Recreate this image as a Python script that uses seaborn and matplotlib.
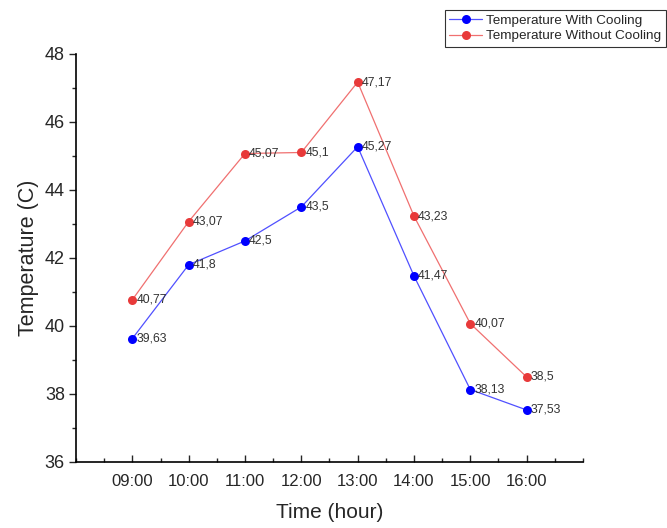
import numpy as np
import pandas as pd
import matplotlib
matplotlib.use('Agg')
import matplotlib.pyplot as plt
from matplotlib.ticker import MultipleLocator
import seaborn as sns

# Данные
hours = ['09:00', '10:00', '11:00', '12:00', '13:00', '14:00', '15:00', '16:00']
with_cooling = [39.63, 41.8, 42.5, 43.5, 45.27, 41.47, 38.13, 37.53]
without_cooling = [40.77, 43.07, 45.07, 45.1, 47.17, 43.23, 40.07, 38.5]

sns.set_style('white')
plt.rcParams['font.family'] = ['Liberation Sans', 'DejaVu Sans']

pos = np.arange(len(hours))
df = pd.DataFrame({'pos': pos, 'with': with_cooling, 'without': without_cooling})

fig = plt.figure(figsize=(6.67, 5.28), dpi=100)
ax = fig.add_axes([0.114, 0.125, 0.760, 0.773])

blue = '#0000ff'
red = '#e83a3a'

sns.lineplot(data=df, x='pos', y='with', ax=ax, color=blue, lw=0.9,
             marker='o', markersize=6.5, markeredgewidth=0, label='Temperature With Cooling')
sns.lineplot(data=df, x='pos', y='without', ax=ax, color=red, lw=0.9,
             marker='o', markersize=6.5, markeredgewidth=0, label='Temperature Without Cooling')
ax.lines[0].set_color('#5050ff')
ax.lines[0].set_markerfacecolor(blue)
ax.lines[1].set_color('#f07070')
ax.lines[1].set_markerfacecolor(red)

# Подписи значений
for vals in (with_cooling, without_cooling):
    for x, v in zip(pos, vals):
        ax.annotate(f'{v:g}'.replace('.', ','), (x, v), xytext=(3, 0),
                    textcoords='offset points', va='center', ha='left',
                    fontsize=8.8, color='#333333')

ax.set_xlim(-1, 8)
ax.set_ylim(36, 48)
ax.set_xticks(pos)
ax.set_xticklabels(hours)
ax.xaxis.set_minor_locator(MultipleLocator(0.5))
ax.yaxis.set_major_locator(MultipleLocator(2))
ax.yaxis.set_minor_locator(MultipleLocator(1))
ax.tick_params(axis='x', which='major', direction='in', length=5, width=1, labelsize=12, pad=9, bottom=True)
ax.tick_params(axis='x', which='minor', direction='in', length=3, width=1, bottom=True)
ax.tick_params(axis='y', which='major', direction='out', length=5, width=1, labelsize=13, pad=3, left=True)
ax.tick_params(axis='y', which='minor', direction='out', length=3, width=1, left=True)

for s in ['top', 'right']:
    ax.spines[s].set_visible(False)
for s in ['left', 'bottom']:
    ax.spines[s].set_color('black')
    ax.spines[s].set_linewidth(1.2)

ax.set_xlabel('Time (hour)', fontsize=15, labelpad=10)
ax.set_ylabel('Temperature (C)', fontsize=15.5, labelpad=4)
ax.grid(False)

handles, labels = ax.get_legend_handles_labels()
ax.get_legend().remove()
leg = fig.legend(handles, labels, loc='upper right', bbox_to_anchor=(0.998, 0.982),
                 fontsize=9.7, frameon=True, fancybox=False, handlelength=2.4,
                 borderpad=0.35, labelspacing=0.25, handletextpad=0.3, borderaxespad=0)
leg.get_frame().set_edgecolor('black')
leg.get_frame().set_linewidth(0.8)

fig.savefig('out.png', dpi=100)
